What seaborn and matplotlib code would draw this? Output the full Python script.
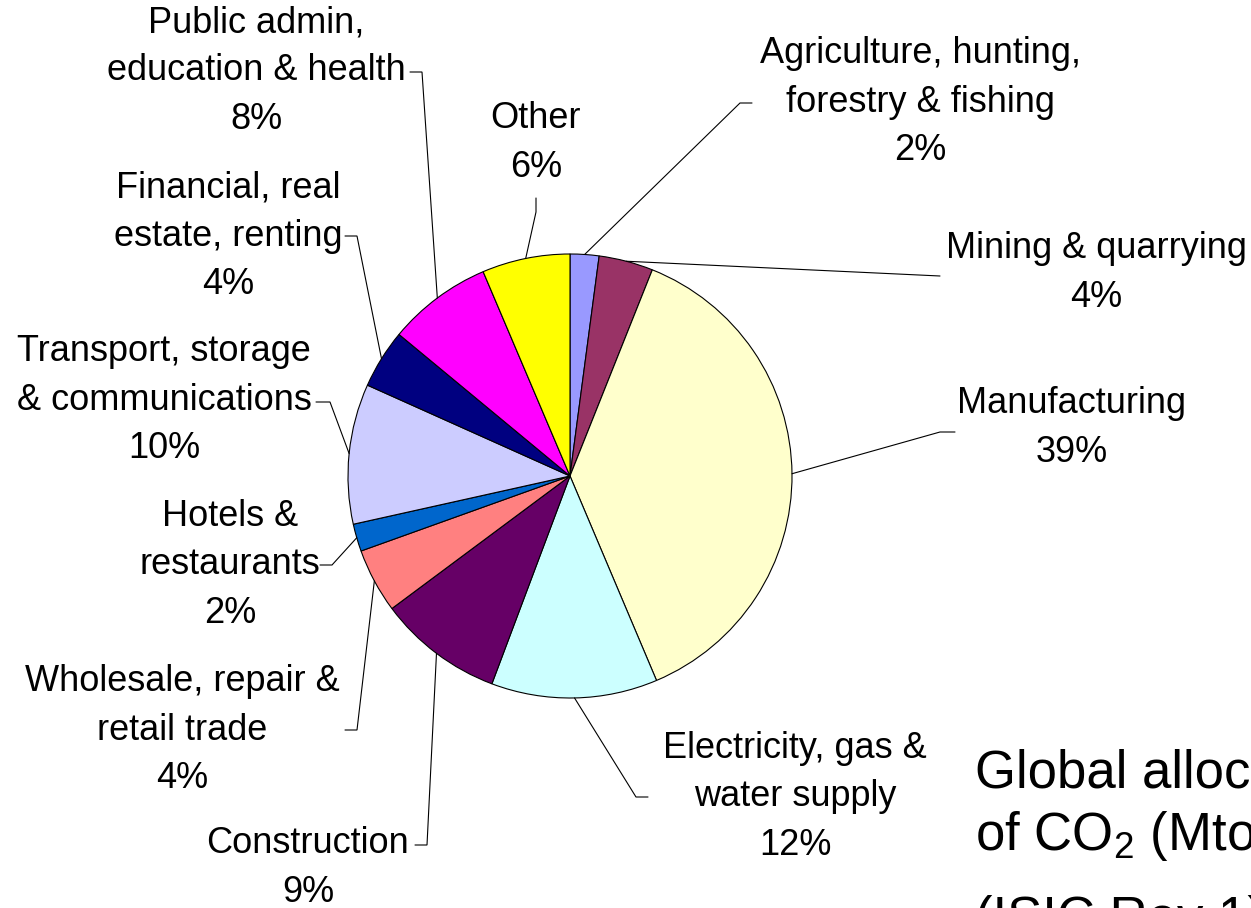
import numpy as np
import matplotlib
matplotlib.use("Agg")
import matplotlib.pyplot as plt
import seaborn as sns

# sectors, clockwise from 12 o'clock
sectors = ["Agriculture, hunting,\nforestry & fishing",
           "Mining & quarrying",
           "Manufacturing",
           "Electricity, gas &\nwater supply",
           "Construction",
           "Wholesale, repair &\nretail trade",
           "Hotels &\nrestaurants",
           "Transport, storage\n& communications",
           "Financial, real\nestate, renting",
           "Public admin,\neducation & health",
           "Other"]
shares = [2.1, 3.95, 37.6, 12.1, 9.1, 4.7, 2.0, 10.2, 4.3, 7.6, 6.4]
pct_labels = ["2%", "4%", "39%", "12%", "9%", "4%", "2%", "10%", "4%", "8%", "6%"]
colors = ["#9999FF", "#993366", "#FFFFCC", "#CCFFFF", "#660066", "#FF8080",
          "#0066CC", "#CCCCFF", "#000080", "#FF00FF", "#FFFF00"]

title_lines = ["Global allocation", "of CO$_2$ (Mtonnes)", "(ISIC Rev 1)"]

W, H = 1251, 908

# label layout, in picture pixels (y down): text centre, elbow, tick end
text_pos = [(920, 102), (1096, 273), (1072, 428), (795, 797), (308, 868),
            (182, 730), (230, 565), (164, 400), (228, 236), (256, 71), (536, 143)]
elbows = [(740, 103), (940, 276), (940, 432), (636, 797), (427, 845),
          (357, 730), (332, 565), (330, 402), (357, 236), (422, 72), (536, 212)]
ticks = [(752, 103), (940, 276), (955, 432), (648, 797), (415, 845),
         (345, 730), (320, 565), (316, 402), (345, 236), (410, 72), (536, 198)]

sns.set_theme(style="white")
plt.rcParams['font.family'] = ['Liberation Sans', 'DejaVu Sans']
plt.rcParams['mathtext.fontset'] = 'custom'
plt.rcParams['mathtext.rm'] = 'Liberation Sans'
plt.rcParams['mathtext.it'] = 'Liberation Sans:italic'

fig = plt.figure(figsize=(W / 100, H / 100), dpi=100)
ax = fig.add_axes([0, 0, 1, 1])

cx, cy, r = 570, H - 476, 222
wedges, _ = ax.pie(shares, colors=colors, startangle=90, counterclock=False,
                   center=(cx, cy), radius=r,
                   wedgeprops=dict(edgecolor="black", linewidth=0.8))

for i, w in enumerate(wedges):
    mid = np.deg2rad((w.theta1 + w.theta2) / 2)
    px, py = cx + r * np.cos(mid), cy + r * np.sin(mid)
    ex, ey = elbows[i]
    tx, ty = ticks[i]
    ax.plot([px, ex, tx], [py, H - ey, H - ty], color="black", lw=0.8,
            solid_joinstyle="miter")
    x, y = text_pos[i]
    ax.text(x, H - y, sectors[i] + "\n" + pct_labels[i], ha="center", va="center",
            fontsize=26, linespacing=1.49, color="black")

# title runs off the right edge, as in the original slide
for line, base in zip(title_lines, [788, 850, 934]):
    ax.text(975, H - base, line, ha="left", va="baseline", fontsize=38, color="black")

ax.set_xlim(0, W)
ax.set_ylim(0, H)
ax.set_aspect("equal")
ax.axis("off")

fig.savefig("out.png", dpi=100)
